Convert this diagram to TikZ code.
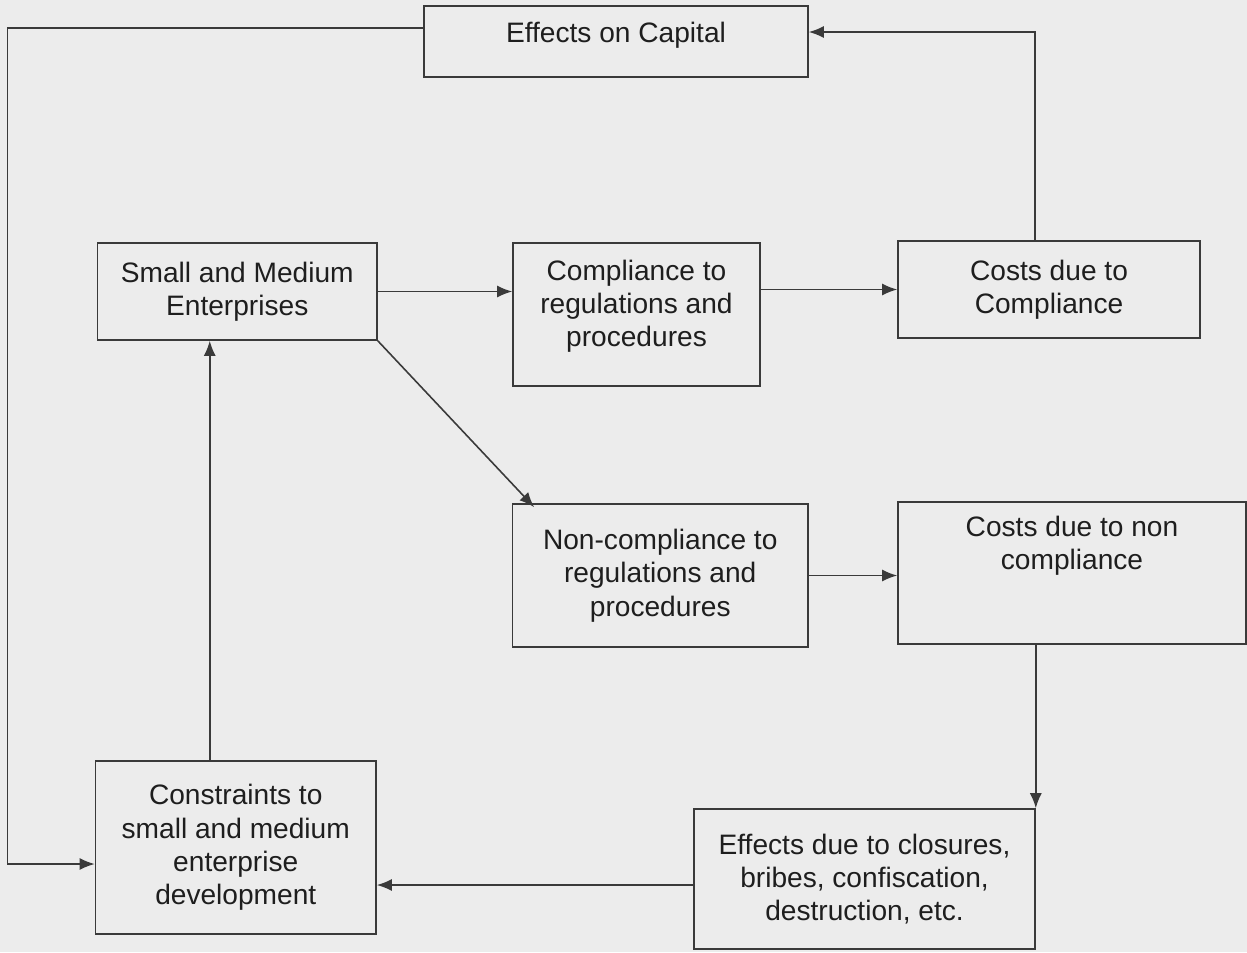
\documentclass[tikz,border=0pt]{standalone}
\usepackage{fontspec}
\setmainfont{Liberation Sans}
\usetikzlibrary{arrows.meta}

\definecolor{paper}{RGB}{236,236,236}
\definecolor{ink}{RGB}{58,58,58}
\definecolor{txtink}{RGB}{30,30,30}

\tikzset{
	box/.style = {draw = ink, line width = 0.9pt, align = center, text = txtink,
		font = \fontsize{16}{19}\selectfont, inner sep = 0pt},
	link/.style = {draw = ink, line width = 0.9pt}
}

\begin{document}
\begin{tikzpicture}[> = {Latex[length = 3mm, width = 2.4mm]}]

	\fill [paper] (0, 0) rectangle (24.94, -19.04);
	\useasboundingbox (0, 0) rectangle (24.94, -19.04);

	\node [box, minimum width = 7.68cm, minimum height = 1.42cm, text depth = 0.38cm] (cap) at (12.32, -0.83) {Effects on Capital};

	\node [box, minimum width = 5.59cm, minimum height = 1.94cm] (sme) at (4.745, -5.83) {Small and Medium\\Enterprises};
	\node [box, minimum width = 4.94cm, minimum height = 2.86cm, text depth = 0.45cm] (comp) at (12.73, -6.29) {Compliance to\\regulations and\\procedures};
	\node [box, minimum width = 6.04cm, minimum height = 1.94cm] (cc) at (20.98, -5.79) {Costs due to\\Compliance};

	\node [box, minimum width = 5.91cm, minimum height = 2.86cm] (nonc) at (13.205, -11.51) {Non-compliance to\\regulations and\\procedures};
	\node [box, minimum width = 6.96cm, minimum height = 2.84cm, text depth = 1.2cm] (cn) at (21.44, -11.46) {Costs due to non\\compliance};

	\node [box, minimum width = 5.61cm, minimum height = 3.46cm] (con) at (4.715, -16.95) {Constraints to\\small and medium\\enterprise\\development};
	\node [box, minimum width = 6.82cm, minimum height = 2.8cm] (ecl) at (17.29, -17.58) {Effects due to closures,\\bribes, confiscation,\\destruction, etc.};

	\coordinate (lftc) at (0.15, -10);

	\begin{scope}[link, ->]

		\draw (sme.east) -- (sme.east -| comp.west);
		\draw (comp.east |- cc.west) -- (cc.west);
		\draw ([xshift = -0.28cm]cc.north) |- ([yshift = 0.19cm]cap.east);
		\draw ([yshift = 0.27cm]cap.west) -| (lftc) |- ([yshift = -0.33cm]con.west);

		\draw (sme.south east) -- ([xshift = 0.45cm, yshift = -0.08cm]nonc.north west);
		\draw (nonc.east) -- (nonc.east -| cn.west);
		\draw (cn.south -| ecl.north east) -- (ecl.north east);
		\draw ([yshift = -0.12cm]ecl.west) -- ([yshift = -0.12cm]ecl.west -| con.east);

		\draw ([xshift = -0.52cm]con.north) coordinate (up) -- (up |- sme.south);

	\end{scope}

\end{tikzpicture}
\end{document}
